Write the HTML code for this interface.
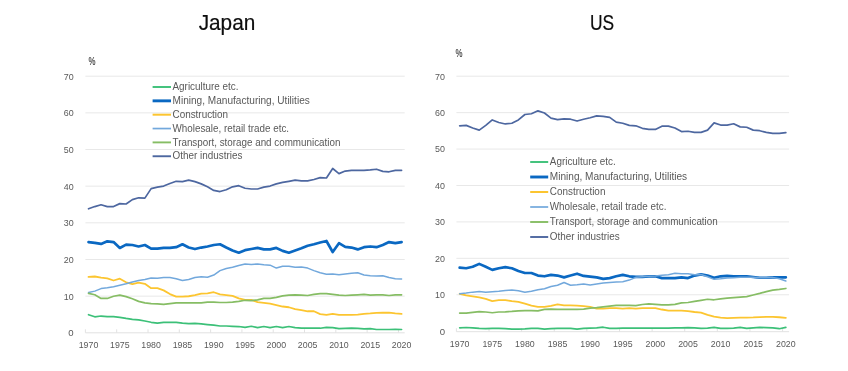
<!DOCTYPE html>
<html><head><meta charset="utf-8">
<style>
html,body{margin:0;padding:0;background:#fff;}
body{width:848px;height:371px;overflow:hidden;}
svg{display:block;filter:blur(0.35px);}
text{font-family:"Liberation Sans",sans-serif;}
.ax{font-size:9.2px;fill:#595959;}
.ay{font-size:9.6px;fill:#595959;}
.lg{font-size:10.4px;fill:#595959;}
.pct{font-size:11px;font-weight:bold;fill:#505050;}
.ttl{font-size:22.5px;fill:#0d0d0d;stroke:#0d0d0d;stroke-width:0.2px;}
</style></head>
<body>
<svg width="848" height="371" viewBox="0 0 848 371">
<rect width="848" height="371" fill="#fff"/>
<text x="227" y="29.6" class="ttl" text-anchor="middle" transform="translate(227 0) scale(0.925 1) translate(-227 0)">Japan</text>
<text x="602" y="29.6" class="ttl" text-anchor="middle" transform="translate(602 0) scale(0.775 1) translate(-602 0)">US</text>
<line x1="85.40" y1="296.14" x2="404.70" y2="296.14" stroke="#e8e8e8" stroke-width="1"/>
<line x1="85.40" y1="259.49" x2="404.70" y2="259.49" stroke="#e8e8e8" stroke-width="1"/>
<line x1="85.40" y1="222.83" x2="404.70" y2="222.83" stroke="#e8e8e8" stroke-width="1"/>
<line x1="85.40" y1="186.17" x2="404.70" y2="186.17" stroke="#e8e8e8" stroke-width="1"/>
<line x1="85.40" y1="149.51" x2="404.70" y2="149.51" stroke="#e8e8e8" stroke-width="1"/>
<line x1="85.40" y1="112.86" x2="404.70" y2="112.86" stroke="#e8e8e8" stroke-width="1"/>
<line x1="85.40" y1="76.20" x2="404.70" y2="76.20" stroke="#e8e8e8" stroke-width="1"/>
<line x1="85.40" y1="332.80" x2="404.70" y2="332.80" stroke="#e2e2e2" stroke-width="1"/>
<line x1="85.40" y1="329.30" x2="85.40" y2="332.80" stroke="#e2e2e2" stroke-width="1"/>
<line x1="116.70" y1="329.30" x2="116.70" y2="332.80" stroke="#e2e2e2" stroke-width="1"/>
<line x1="148.01" y1="329.30" x2="148.01" y2="332.80" stroke="#e2e2e2" stroke-width="1"/>
<line x1="179.31" y1="329.30" x2="179.31" y2="332.80" stroke="#e2e2e2" stroke-width="1"/>
<line x1="210.62" y1="329.30" x2="210.62" y2="332.80" stroke="#e2e2e2" stroke-width="1"/>
<line x1="241.92" y1="329.30" x2="241.92" y2="332.80" stroke="#e2e2e2" stroke-width="1"/>
<line x1="273.22" y1="329.30" x2="273.22" y2="332.80" stroke="#e2e2e2" stroke-width="1"/>
<line x1="304.53" y1="329.30" x2="304.53" y2="332.80" stroke="#e2e2e2" stroke-width="1"/>
<line x1="335.83" y1="329.30" x2="335.83" y2="332.80" stroke="#e2e2e2" stroke-width="1"/>
<line x1="367.14" y1="329.30" x2="367.14" y2="332.80" stroke="#e2e2e2" stroke-width="1"/>
<line x1="398.44" y1="329.30" x2="398.44" y2="332.80" stroke="#e2e2e2" stroke-width="1"/>
<text x="73.60" y="336.20" class="ay" text-anchor="end">0</text>
<text x="73.60" y="299.54" class="ay" text-anchor="end" textLength="9.9" lengthAdjust="spacingAndGlyphs">10</text>
<text x="73.60" y="262.89" class="ay" text-anchor="end" textLength="9.9" lengthAdjust="spacingAndGlyphs">20</text>
<text x="73.60" y="226.23" class="ay" text-anchor="end" textLength="9.9" lengthAdjust="spacingAndGlyphs">30</text>
<text x="73.60" y="189.57" class="ay" text-anchor="end" textLength="9.9" lengthAdjust="spacingAndGlyphs">40</text>
<text x="73.60" y="152.91" class="ay" text-anchor="end" textLength="9.9" lengthAdjust="spacingAndGlyphs">50</text>
<text x="73.60" y="116.26" class="ay" text-anchor="end" textLength="9.9" lengthAdjust="spacingAndGlyphs">60</text>
<text x="73.60" y="79.60" class="ay" text-anchor="end" textLength="9.9" lengthAdjust="spacingAndGlyphs">70</text>
<text x="88.53" y="347.80" class="ax" text-anchor="middle" textLength="19.6" lengthAdjust="spacingAndGlyphs">1970</text>
<text x="119.83" y="347.80" class="ax" text-anchor="middle" textLength="19.6" lengthAdjust="spacingAndGlyphs">1975</text>
<text x="151.14" y="347.80" class="ax" text-anchor="middle" textLength="19.6" lengthAdjust="spacingAndGlyphs">1980</text>
<text x="182.44" y="347.80" class="ax" text-anchor="middle" textLength="19.6" lengthAdjust="spacingAndGlyphs">1985</text>
<text x="213.75" y="347.80" class="ax" text-anchor="middle" textLength="19.6" lengthAdjust="spacingAndGlyphs">1990</text>
<text x="245.05" y="347.80" class="ax" text-anchor="middle" textLength="19.6" lengthAdjust="spacingAndGlyphs">1995</text>
<text x="276.35" y="347.80" class="ax" text-anchor="middle" textLength="19.6" lengthAdjust="spacingAndGlyphs">2000</text>
<text x="307.66" y="347.80" class="ax" text-anchor="middle" textLength="19.6" lengthAdjust="spacingAndGlyphs">2005</text>
<text x="338.96" y="347.80" class="ax" text-anchor="middle" textLength="19.6" lengthAdjust="spacingAndGlyphs">2010</text>
<text x="370.27" y="347.80" class="ax" text-anchor="middle" textLength="19.6" lengthAdjust="spacingAndGlyphs">2015</text>
<text x="401.57" y="347.80" class="ax" text-anchor="middle" textLength="19.6" lengthAdjust="spacingAndGlyphs">2020</text>
<text x="0" y="0" class="pct" transform="translate(88.60 64.60) scale(0.72 1)">%</text>
<line x1="152.6" y1="87.00" x2="171.0" y2="87.00" stroke="#3cc078" stroke-width="1.9" stroke-linecap="butt"/>
<text x="172.5" y="90.10" class="lg" textLength="66.0" lengthAdjust="spacingAndGlyphs">Agriculture etc.</text>
<line x1="152.6" y1="100.85" x2="171.0" y2="100.85" stroke="#0a68c2" stroke-width="2.9000000000000004" stroke-linecap="butt"/>
<text x="172.5" y="103.95" class="lg" textLength="137.3" lengthAdjust="spacingAndGlyphs">Mining, Manufacturing, Utilities</text>
<line x1="152.6" y1="114.70" x2="171.0" y2="114.70" stroke="#fcc530" stroke-width="2.0" stroke-linecap="butt"/>
<text x="172.5" y="117.80" class="lg" textLength="55.6" lengthAdjust="spacingAndGlyphs">Construction</text>
<line x1="152.6" y1="128.55" x2="171.0" y2="128.55" stroke="#72a8dc" stroke-width="1.7" stroke-linecap="butt"/>
<text x="172.5" y="131.65" class="lg" textLength="116.6" lengthAdjust="spacingAndGlyphs">Wholesale, retail trade etc.</text>
<line x1="152.6" y1="142.40" x2="171.0" y2="142.40" stroke="#86bd64" stroke-width="1.9" stroke-linecap="butt"/>
<text x="172.5" y="145.50" class="lg" textLength="167.9" lengthAdjust="spacingAndGlyphs">Transport, storage and communication</text>
<line x1="152.6" y1="156.25" x2="171.0" y2="156.25" stroke="#4d67a0" stroke-width="1.9" stroke-linecap="butt"/>
<text x="172.5" y="159.35" class="lg" textLength="69.9" lengthAdjust="spacingAndGlyphs">Other industries</text>
<polyline points="88.53,314.71 94.79,316.79 101.05,316.03 107.31,316.68 113.57,316.68 119.83,317.31 126.10,318.41 132.36,319.32 138.62,319.91 144.88,321.00 151.14,322.29 157.40,323.20 163.66,322.29 169.92,322.29 176.18,322.29 182.44,323.20 188.70,323.60 194.96,323.38 201.22,323.90 207.49,324.59 213.75,325.21 220.01,325.98 226.27,325.98 232.53,326.28 238.79,326.53 245.05,327.30 251.31,326.28 257.57,327.59 263.83,326.53 270.09,327.59 276.35,326.53 282.61,327.59 288.88,326.53 295.14,327.59 301.40,328.22 307.66,328.22 313.92,328.22 320.18,328.22 326.44,327.30 332.70,327.59 338.96,328.62 345.22,328.47 351.48,328.22 357.74,328.47 364.00,328.91 370.27,328.62 376.53,329.50 382.79,329.50 389.05,329.50 395.31,329.24 401.57,329.50" fill="none" stroke="#3cc078" stroke-width="1.7" stroke-linejoin="round" stroke-linecap="round"/>
<polyline points="88.53,242.07 94.79,242.81 101.05,243.90 107.31,241.34 113.57,242.07 119.83,247.93 126.10,244.64 132.36,245.00 138.62,246.47 144.88,245.00 151.14,248.66 157.40,248.66 163.66,247.93 169.92,247.93 176.18,247.20 182.44,244.27 188.70,247.56 194.96,249.03 201.22,247.56 207.49,246.47 213.75,245.00 220.01,244.27 226.27,247.56 232.53,250.49 238.79,252.69 245.05,250.13 251.31,249.03 257.57,247.93 263.83,249.40 270.09,249.40 276.35,247.93 282.61,250.86 288.88,252.69 295.14,250.49 301.40,248.30 307.66,245.73 313.92,244.27 320.18,242.44 326.44,240.97 332.70,251.96 338.96,243.17 345.22,246.83 351.48,247.56 357.74,249.40 364.00,247.20 370.27,246.47 376.53,247.20 382.79,245.00 389.05,242.07 395.31,243.17 401.57,242.07" fill="none" stroke="#0a68c2" stroke-width="2.7" stroke-linejoin="round" stroke-linecap="round"/>
<polyline points="88.53,276.85 94.79,276.49 101.05,277.58 107.31,278.32 113.57,280.51 119.83,278.68 126.10,282.34 132.36,284.17 138.62,282.71 144.88,283.81 151.14,288.20 157.40,288.20 163.66,290.40 169.92,294.06 176.18,296.62 182.44,296.62 188.70,296.26 194.96,295.16 201.22,293.69 207.49,293.33 213.75,292.23 220.01,294.43 226.27,295.16 232.53,295.89 238.79,298.45 245.05,299.92 251.31,299.92 257.57,302.11 263.83,302.85 270.09,303.58 276.35,305.04 282.61,306.51 288.88,307.24 295.14,309.07 301.40,310.17 307.66,311.27 313.92,311.27 320.18,314.19 326.44,314.93 332.70,313.83 338.96,314.93 345.22,314.93 351.48,314.93 357.74,314.56 364.00,313.83 370.27,313.46 376.53,312.91 382.79,312.73 389.05,312.73 395.31,313.46 401.57,313.83" fill="none" stroke="#fcc530" stroke-width="1.8" stroke-linejoin="round" stroke-linecap="round"/>
<polyline points="88.53,292.60 94.79,291.13 101.05,288.57 107.31,287.84 113.57,286.74 119.83,285.27 126.10,283.81 132.36,281.98 138.62,280.51 144.88,279.42 151.14,277.95 157.40,278.32 163.66,277.58 169.92,277.58 176.18,278.68 182.44,280.51 188.70,279.42 194.96,277.58 201.22,276.85 207.49,277.22 213.75,275.02 220.01,270.63 226.27,268.43 232.53,267.33 238.79,265.50 245.05,264.04 251.31,264.41 257.57,264.04 263.83,264.77 270.09,265.14 276.35,268.07 282.61,266.24 288.88,266.24 295.14,267.33 301.40,266.97 307.66,268.07 313.92,270.63 320.18,272.83 326.44,274.29 332.70,273.92 338.96,274.66 345.22,273.92 351.48,273.19 357.74,272.83 364.00,275.02 370.27,275.75 376.53,276.12 382.79,275.75 389.05,277.58 395.31,278.68 401.57,279.05" fill="none" stroke="#72a8dc" stroke-width="1.5" stroke-linejoin="round" stroke-linecap="round"/>
<polyline points="88.53,293.33 94.79,294.79 101.05,298.45 107.31,298.45 113.57,296.26 119.83,295.16 126.10,296.62 132.36,298.82 138.62,301.38 144.88,302.85 151.14,303.58 157.40,303.94 163.66,304.31 169.92,303.58 176.18,302.85 182.44,302.85 188.70,302.85 194.96,302.85 201.22,302.85 207.49,302.11 213.75,302.11 220.01,302.48 226.27,302.48 232.53,302.11 238.79,301.38 245.05,300.28 251.31,300.65 257.57,299.92 263.83,298.45 270.09,298.45 276.35,297.35 282.61,295.89 288.88,295.16 295.14,294.79 301.40,295.16 307.66,295.52 313.92,294.43 320.18,293.69 326.44,293.69 332.70,294.43 338.96,295.16 345.22,295.52 351.48,295.16 357.74,294.79 364.00,294.43 370.27,295.16 376.53,294.79 382.79,294.79 389.05,295.52 395.31,294.79 401.57,294.79" fill="none" stroke="#86bd64" stroke-width="1.7" stroke-linejoin="round" stroke-linecap="round"/>
<polyline points="88.53,208.76 94.79,206.56 101.05,204.73 107.31,206.56 113.57,206.56 119.83,203.63 126.10,204.00 132.36,199.61 138.62,197.78 144.88,198.14 151.14,188.62 157.40,187.16 163.66,186.06 169.92,183.50 176.18,181.30 182.44,181.67 188.70,180.20 194.96,181.67 201.22,183.86 207.49,186.79 213.75,190.45 220.01,191.55 226.27,189.72 232.53,186.79 238.79,185.69 245.05,188.26 251.31,188.99 257.57,188.99 263.83,187.16 270.09,186.06 276.35,183.86 282.61,182.40 288.88,181.30 295.14,180.20 301.40,180.93 307.66,180.93 313.92,179.47 320.18,177.64 326.44,178.01 332.70,168.49 338.96,173.61 345.22,171.05 351.48,170.32 357.74,170.32 364.00,170.32 370.27,169.95 376.53,169.22 382.79,171.42 389.05,171.78 395.31,170.32 401.57,170.32" fill="none" stroke="#4d67a0" stroke-width="1.7" stroke-linejoin="round" stroke-linecap="round"/>
<line x1="456.40" y1="294.77" x2="789.10" y2="294.77" stroke="#e8e8e8" stroke-width="1"/>
<line x1="456.40" y1="258.34" x2="789.10" y2="258.34" stroke="#e8e8e8" stroke-width="1"/>
<line x1="456.40" y1="221.91" x2="789.10" y2="221.91" stroke="#e8e8e8" stroke-width="1"/>
<line x1="456.40" y1="185.49" x2="789.10" y2="185.49" stroke="#e8e8e8" stroke-width="1"/>
<line x1="456.40" y1="149.06" x2="789.10" y2="149.06" stroke="#e8e8e8" stroke-width="1"/>
<line x1="456.40" y1="112.63" x2="789.10" y2="112.63" stroke="#e8e8e8" stroke-width="1"/>
<line x1="456.40" y1="76.20" x2="789.10" y2="76.20" stroke="#e8e8e8" stroke-width="1"/>
<line x1="456.40" y1="331.70" x2="789.10" y2="331.70" stroke="#e2e2e2" stroke-width="1"/>
<line x1="456.40" y1="328.20" x2="456.40" y2="331.70" stroke="#e2e2e2" stroke-width="1"/>
<line x1="489.02" y1="328.20" x2="489.02" y2="331.70" stroke="#e2e2e2" stroke-width="1"/>
<line x1="521.64" y1="328.20" x2="521.64" y2="331.70" stroke="#e2e2e2" stroke-width="1"/>
<line x1="554.25" y1="328.20" x2="554.25" y2="331.70" stroke="#e2e2e2" stroke-width="1"/>
<line x1="586.87" y1="328.20" x2="586.87" y2="331.70" stroke="#e2e2e2" stroke-width="1"/>
<line x1="619.49" y1="328.20" x2="619.49" y2="331.70" stroke="#e2e2e2" stroke-width="1"/>
<line x1="652.11" y1="328.20" x2="652.11" y2="331.70" stroke="#e2e2e2" stroke-width="1"/>
<line x1="684.72" y1="328.20" x2="684.72" y2="331.70" stroke="#e2e2e2" stroke-width="1"/>
<line x1="717.34" y1="328.20" x2="717.34" y2="331.70" stroke="#e2e2e2" stroke-width="1"/>
<line x1="749.96" y1="328.20" x2="749.96" y2="331.70" stroke="#e2e2e2" stroke-width="1"/>
<line x1="782.58" y1="328.20" x2="782.58" y2="331.70" stroke="#e2e2e2" stroke-width="1"/>
<text x="445.00" y="334.60" class="ay" text-anchor="end">0</text>
<text x="445.00" y="298.17" class="ay" text-anchor="end" textLength="9.9" lengthAdjust="spacingAndGlyphs">10</text>
<text x="445.00" y="261.74" class="ay" text-anchor="end" textLength="9.9" lengthAdjust="spacingAndGlyphs">20</text>
<text x="445.00" y="225.31" class="ay" text-anchor="end" textLength="9.9" lengthAdjust="spacingAndGlyphs">30</text>
<text x="445.00" y="188.89" class="ay" text-anchor="end" textLength="9.9" lengthAdjust="spacingAndGlyphs">40</text>
<text x="445.00" y="152.46" class="ay" text-anchor="end" textLength="9.9" lengthAdjust="spacingAndGlyphs">50</text>
<text x="445.00" y="116.03" class="ay" text-anchor="end" textLength="9.9" lengthAdjust="spacingAndGlyphs">60</text>
<text x="445.00" y="79.60" class="ay" text-anchor="end" textLength="9.9" lengthAdjust="spacingAndGlyphs">70</text>
<text x="459.66" y="346.80" class="ax" text-anchor="middle" textLength="19.6" lengthAdjust="spacingAndGlyphs">1970</text>
<text x="492.28" y="346.80" class="ax" text-anchor="middle" textLength="19.6" lengthAdjust="spacingAndGlyphs">1975</text>
<text x="524.90" y="346.80" class="ax" text-anchor="middle" textLength="19.6" lengthAdjust="spacingAndGlyphs">1980</text>
<text x="557.51" y="346.80" class="ax" text-anchor="middle" textLength="19.6" lengthAdjust="spacingAndGlyphs">1985</text>
<text x="590.13" y="346.80" class="ax" text-anchor="middle" textLength="19.6" lengthAdjust="spacingAndGlyphs">1990</text>
<text x="622.75" y="346.80" class="ax" text-anchor="middle" textLength="19.6" lengthAdjust="spacingAndGlyphs">1995</text>
<text x="655.37" y="346.80" class="ax" text-anchor="middle" textLength="19.6" lengthAdjust="spacingAndGlyphs">2000</text>
<text x="687.99" y="346.80" class="ax" text-anchor="middle" textLength="19.6" lengthAdjust="spacingAndGlyphs">2005</text>
<text x="720.60" y="346.80" class="ax" text-anchor="middle" textLength="19.6" lengthAdjust="spacingAndGlyphs">2010</text>
<text x="753.22" y="346.80" class="ax" text-anchor="middle" textLength="19.6" lengthAdjust="spacingAndGlyphs">2015</text>
<text x="785.84" y="346.80" class="ax" text-anchor="middle" textLength="19.6" lengthAdjust="spacingAndGlyphs">2020</text>
<text x="0" y="0" class="pct" transform="translate(455.50 56.60) scale(0.72 1)">%</text>
<line x1="530.2" y1="162.00" x2="548.2" y2="162.00" stroke="#3cc078" stroke-width="1.9" stroke-linecap="butt"/>
<text x="549.8" y="165.10" class="lg" textLength="66.0" lengthAdjust="spacingAndGlyphs">Agriculture etc.</text>
<line x1="530.2" y1="177.00" x2="548.2" y2="177.00" stroke="#0a68c2" stroke-width="2.9000000000000004" stroke-linecap="butt"/>
<text x="549.8" y="180.10" class="lg" textLength="137.3" lengthAdjust="spacingAndGlyphs">Mining, Manufacturing, Utilities</text>
<line x1="530.2" y1="192.00" x2="548.2" y2="192.00" stroke="#fcc530" stroke-width="2.0" stroke-linecap="butt"/>
<text x="549.8" y="195.10" class="lg" textLength="55.6" lengthAdjust="spacingAndGlyphs">Construction</text>
<line x1="530.2" y1="207.00" x2="548.2" y2="207.00" stroke="#72a8dc" stroke-width="1.7" stroke-linecap="butt"/>
<text x="549.8" y="210.10" class="lg" textLength="116.6" lengthAdjust="spacingAndGlyphs">Wholesale, retail trade etc.</text>
<line x1="530.2" y1="222.00" x2="548.2" y2="222.00" stroke="#86bd64" stroke-width="1.9" stroke-linecap="butt"/>
<text x="549.8" y="225.10" class="lg" textLength="167.9" lengthAdjust="spacingAndGlyphs">Transport, storage and communication</text>
<line x1="530.2" y1="237.00" x2="548.2" y2="237.00" stroke="#4d67a0" stroke-width="1.9" stroke-linecap="butt"/>
<text x="549.8" y="240.10" class="lg" textLength="69.9" lengthAdjust="spacingAndGlyphs">Other industries</text>
<polyline points="459.66,327.80 466.19,327.51 472.71,327.80 479.23,328.38 485.76,328.60 492.28,328.38 498.80,328.38 505.33,328.60 511.85,329.11 518.37,329.11 524.90,328.82 531.42,328.38 537.94,328.38 544.47,329.11 550.99,328.60 557.51,328.38 564.04,328.38 570.56,328.38 577.09,329.19 583.61,328.38 590.13,328.13 596.66,327.91 603.18,327.22 609.70,328.38 616.23,328.38 622.75,328.13 629.27,328.13 635.80,328.13 642.32,328.13 648.84,328.13 655.37,328.13 661.89,328.13 668.41,328.13 674.94,327.91 681.46,327.80 687.99,327.66 694.51,327.91 701.03,328.38 707.56,328.09 714.08,327.40 720.60,328.38 727.13,328.38 733.65,328.09 740.17,327.40 746.70,328.38 753.22,327.80 759.74,327.40 766.27,327.66 772.79,327.80 779.31,328.71 785.84,327.40" fill="none" stroke="#3cc078" stroke-width="1.7" stroke-linejoin="round" stroke-linecap="round"/>
<polyline points="459.66,267.71 466.19,268.26 472.71,266.80 479.23,263.89 485.76,266.80 492.28,269.90 498.80,268.26 505.33,267.17 511.85,268.26 518.37,270.99 524.90,273.00 531.42,273.00 537.94,275.55 544.47,276.28 550.99,274.82 557.51,275.55 564.04,277.37 570.56,275.55 577.09,273.72 583.61,275.91 590.13,276.64 596.66,277.37 603.18,278.83 609.70,278.10 616.23,276.28 622.75,274.82 629.27,276.28 635.80,276.82 642.32,276.82 648.84,276.28 655.37,276.28 661.89,278.10 668.41,278.10 674.94,278.10 681.46,277.37 687.99,278.10 694.51,275.55 701.03,274.45 707.56,275.55 714.08,277.73 720.60,276.28 727.13,275.91 733.65,276.28 740.17,276.28 746.70,276.28 753.22,277.00 759.74,277.73 766.27,277.73 772.79,277.37 779.31,277.37 785.84,277.37" fill="none" stroke="#0a68c2" stroke-width="2.7" stroke-linejoin="round" stroke-linecap="round"/>
<polyline points="459.66,293.77 466.19,295.41 472.71,296.32 479.23,297.41 485.76,298.87 492.28,301.05 498.80,300.14 505.33,300.14 511.85,301.05 518.37,301.78 524.90,303.61 531.42,305.61 537.94,306.89 544.47,306.89 550.99,305.79 557.51,304.33 564.04,305.43 570.56,305.43 577.09,305.61 583.61,306.16 590.13,306.89 596.66,308.53 603.18,308.53 609.70,308.16 616.23,308.16 622.75,308.53 629.27,308.16 635.80,308.53 642.32,308.16 648.84,308.16 655.37,308.16 661.89,309.51 668.41,310.53 674.94,310.53 681.46,310.53 687.99,311.08 694.51,311.99 701.03,312.72 707.56,314.90 714.08,316.72 720.60,317.63 727.13,318.18 733.65,317.82 740.17,317.63 746.70,317.63 753.22,317.45 759.74,317.09 766.27,316.91 772.79,316.91 779.31,317.27 785.84,317.82" fill="none" stroke="#fcc530" stroke-width="1.8" stroke-linejoin="round" stroke-linecap="round"/>
<polyline points="459.66,293.77 466.19,293.04 472.71,292.13 479.23,291.58 485.76,292.31 492.28,291.76 498.80,291.22 505.33,290.49 511.85,290.12 518.37,290.85 524.90,292.31 531.42,291.22 537.94,289.76 544.47,288.67 550.99,286.48 557.51,285.20 564.04,282.47 570.56,285.20 577.09,284.66 583.61,283.93 590.13,285.02 596.66,283.93 603.18,283.02 609.70,282.47 616.23,282.11 622.75,281.74 629.27,280.10 635.80,277.37 642.32,276.64 648.84,276.28 655.37,275.91 661.89,275.18 668.41,274.64 674.94,273.36 681.46,273.72 687.99,273.72 694.51,274.82 701.03,274.45 707.56,276.82 714.08,279.37 720.60,278.83 727.13,278.10 733.65,277.73 740.17,277.37 746.70,277.19 753.22,277.37 759.74,277.73 766.27,277.73 772.79,277.37 779.31,278.83 785.84,281.01" fill="none" stroke="#72a8dc" stroke-width="1.5" stroke-linejoin="round" stroke-linecap="round"/>
<polyline points="459.66,313.08 466.19,313.08 472.71,312.35 479.23,311.62 485.76,311.99 492.28,312.72 498.80,311.99 505.33,311.80 511.85,311.44 518.37,310.89 524.90,310.53 531.42,310.53 537.94,310.89 544.47,309.44 550.99,309.07 557.51,309.44 564.04,309.44 570.56,309.44 577.09,309.44 583.61,309.07 590.13,308.16 596.66,307.61 603.18,306.89 609.70,306.16 616.23,305.43 622.75,305.43 629.27,305.43 635.80,305.61 642.32,304.52 648.84,303.97 655.37,304.33 661.89,304.88 668.41,304.88 674.94,304.33 681.46,302.88 687.99,302.51 694.51,301.42 701.03,300.33 707.56,299.23 714.08,299.78 720.60,298.87 727.13,298.14 733.65,297.59 740.17,297.05 746.70,296.68 753.22,295.04 759.74,293.40 766.27,291.58 772.79,290.12 779.31,289.39 785.84,288.48" fill="none" stroke="#86bd64" stroke-width="1.7" stroke-linejoin="round" stroke-linecap="round"/>
<polyline points="459.66,125.78 466.19,125.41 472.71,127.96 479.23,130.15 485.76,125.41 492.28,119.95 498.80,122.50 505.33,123.96 511.85,123.23 518.37,119.95 524.90,114.48 531.42,113.75 537.94,110.84 544.47,113.02 550.99,118.13 557.51,119.58 564.04,118.85 570.56,119.22 577.09,121.04 583.61,119.22 590.13,117.76 596.66,115.94 603.18,116.30 609.70,117.40 616.23,122.13 622.75,123.23 629.27,125.41 635.80,125.78 642.32,128.33 648.84,129.42 655.37,129.42 661.89,126.14 668.41,126.14 674.94,127.96 681.46,131.61 687.99,131.24 694.51,132.34 701.03,132.34 707.56,130.15 714.08,122.86 720.60,125.05 727.13,125.05 733.65,123.77 740.17,126.87 746.70,127.24 753.22,130.15 759.74,130.70 766.27,132.34 772.79,133.43 779.31,133.43 785.84,132.70" fill="none" stroke="#4d67a0" stroke-width="1.7" stroke-linejoin="round" stroke-linecap="round"/>
</svg>
</body></html>
